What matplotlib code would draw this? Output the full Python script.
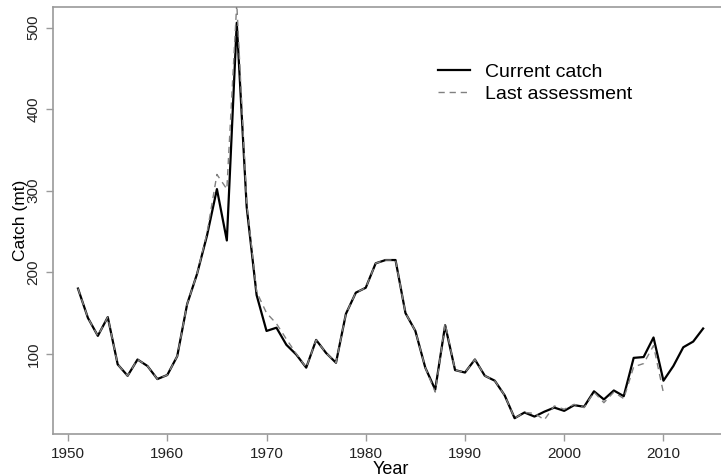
import matplotlib.pyplot as plt
import numpy as np

plt.rcParams["font.family"] = ["Liberation Sans", "DejaVu Sans"]

# Catch series
years = list(range(1951, 2015))
current_catch = [
    180, 144, 122, 145, 87, 73, 93, 85, 69, 74,      # 1951-1960
    97, 161, 198, 245, 302, 239, 506, 280, 172, 128,  # 1961-1970
    132, 111, 99, 83, 117, 101, 89, 149, 175, 181,    # 1971-1980
    211, 215, 215, 150, 128, 83, 56, 135, 80, 77,     # 1981-1990
    93, 73, 67, 49, 21, 28, 23, 29, 34, 30,           # 1991-2000
    37, 35, 54, 44, 55, 48, 95, 96, 120, 67,          # 2001-2010
    85, 108, 115, 131,                                # 2011-2014
]

last_years = list(range(1951, 2011))
last_assessment = [
    180, 144, 122, 145, 87, 73, 93, 85, 69, 74,
    97, 161, 198, 248, 320, 302, 530, 285, 176, 150,
    137, 118, 100, 83, 117, 101, 89, 149, 175, 181,
    211, 215, 215, 150, 128, 83, 53, 137, 80, 77,
    93, 73, 67, 49, 21, 28, 27, 19, 36, 32,
    38, 34, 53, 40, 53, 45, 84, 88, 110, 52,
]

AXIS_GREY = "#9a9a9a"

fig = plt.figure(figsize=(7.21, 4.75), dpi=100)
ax = fig.add_axes([0.0735, 0.0863, 0.9364, 0.899])

ax.plot(years, current_catch, color="black", lw=1.6, label="Current catch", zorder=2)
ax.plot(last_years, last_assessment, color="#808080", lw=1.0,
        linestyle=(0, (4.5, 3.5)), label="Last assessment", zorder=3)

# R-style 4% padding around the current catch range
cmin, cmax = min(current_catch), max(current_catch)
ypad = 0.04 * (cmax - cmin)
xpad = 0.04 * (years[-1] - years[0])
ax.set_xlim(years[0] - xpad, years[-1] + xpad)
ax.set_ylim(cmin - ypad, cmax + ypad)

ax.set_xticks(np.arange(1950, 2011, 10))
ax.set_yticks(np.arange(100, 501, 100))
ax.tick_params(axis="both", direction="out", length=5, width=1, color=AXIS_GREY,
               labelsize=11, labelcolor="#222222", pad=4)
for lab in ax.get_yticklabels():
    lab.set_rotation(90)
    lab.set_va("center")

for side in ["left", "bottom", "top", "right"]:
    ax.spines[side].set_color(AXIS_GREY)
    ax.spines[side].set_linewidth(1.2)

ax.set_xlabel("Year", fontsize=13, labelpad=0)
ax.set_ylabel("Catch (mt)", fontsize=12.5, labelpad=-1)

ax.legend(loc="upper left", bbox_to_anchor=(0.570, 0.869), frameon=False,
          fontsize=14, handlelength=1.65, handletextpad=0.77,
          labelspacing=0.24, borderpad=0, borderaxespad=0)

fig.savefig("out.png", dpi=100)
